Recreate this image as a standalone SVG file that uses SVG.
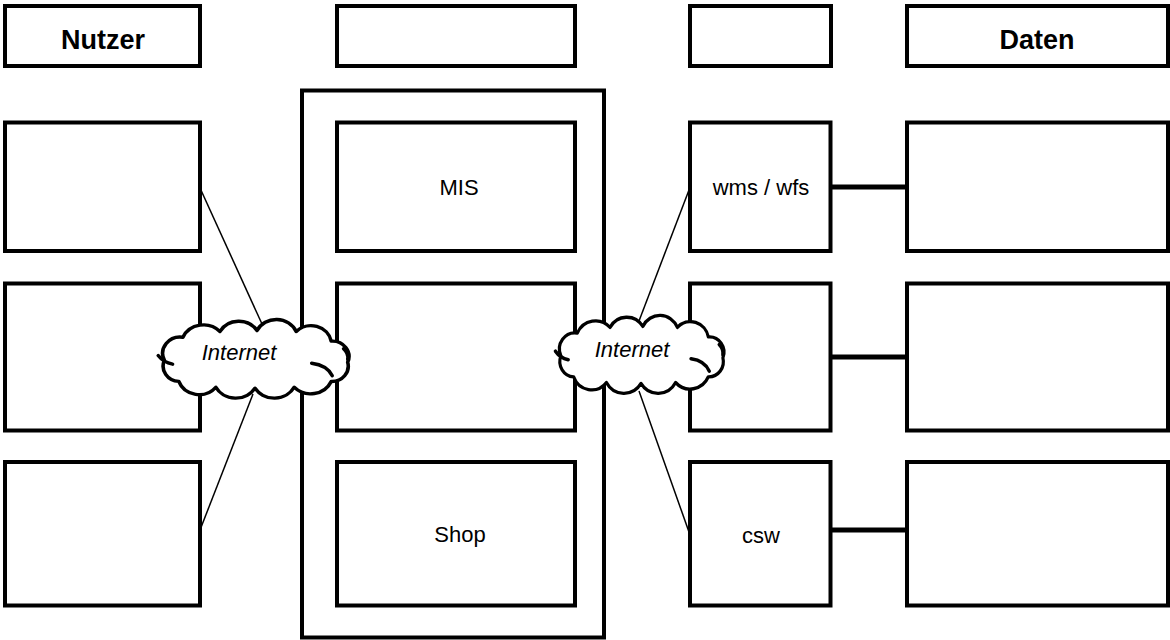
<svg xmlns="http://www.w3.org/2000/svg" width="1170" height="640" viewBox="0 0 1170 640">
<defs>
<style>
.box{fill:#fff;stroke:#000;stroke-width:4}
.cont{fill:none;stroke:#000;stroke-width:4}
.thin{stroke:#000;stroke-width:1.5;fill:none}
.thick{stroke:#000;stroke-width:5;fill:none}
.cloud{fill:#fff;stroke:#000;stroke-width:3.5;vector-effect:non-scaling-stroke;stroke-linejoin:round}
.curl{fill:none;stroke:#000;stroke-width:3.5;vector-effect:non-scaling-stroke;stroke-linecap:round}
.t{font-family:"Liberation Sans",Arial,sans-serif;font-size:22px;text-anchor:middle;fill:#000}
.h{font-family:"Liberation Sans",Arial,sans-serif;font-size:27px;font-weight:bold;text-anchor:middle;fill:#000}
.i{font-family:"Liberation Sans",Arial,sans-serif;font-size:22px;font-style:italic;text-anchor:middle;fill:#000}
</style>
<path id="cloudShape" d="M12 42 A17 17 0 0 1 30 18 A22 22 0 0 1 66 12 A21 21 0 0 1 102 11 A21 21 0 0 1 140 12 A20 20 0 0 1 174 22 A16 16 0 0 1 190 44 A16 16 0 0 1 174 64 A22 22 0 0 1 138 70 A22 22 0 0 1 100 71 A22 22 0 0 1 62 70 A21 21 0 0 1 26 64 A16 16 0 0 1 12 42 Z"/>
</defs>
<rect width="1170" height="640" fill="#fff"/>

<g id="hdr-nutzer"><rect class="box" x="5" y="6" width="195" height="60"/><text class="h" x="103" y="49">Nutzer</text></g>
<g id="hdr-middle"><rect class="box" x="337" y="6" width="238" height="60"/></g>
<g id="hdr-services"><rect class="box" x="690" y="6" width="141" height="60"/></g>
<g id="hdr-daten"><rect class="box" x="907" y="6" width="261" height="60"/><text class="h" x="1037" y="49">Daten</text></g>

<g id="container"><rect class="cont" x="302" y="90.5" width="302" height="547"/></g>

<g id="user1"><rect class="box" x="5" y="122.5" width="195" height="128.5"/></g>
<g id="user2"><rect class="box" x="5" y="283.5" width="195" height="147"/></g>
<g id="user3"><rect class="box" x="5" y="462" width="195" height="143.5"/></g>

<g id="mis"><rect class="box" x="337" y="122.5" width="238" height="128.5"/><text class="t" x="459" y="195">MIS</text></g>
<g id="middle2"><rect class="box" x="337" y="283.5" width="238" height="147"/></g>
<g id="shop"><rect class="box" x="337" y="462" width="238" height="143.5"/><text class="t" x="460" y="542">Shop</text></g>

<g id="wmswfs"><rect class="box" x="690" y="122.5" width="140.5" height="128.5"/><text class="t" x="761" y="195">wms / wfs</text></g>
<g id="service2"><rect class="box" x="690" y="283.5" width="140.5" height="147"/></g>
<g id="csw"><rect class="box" x="690" y="462" width="140.5" height="143.5"/><text class="t" x="761" y="543">csw</text></g>

<g id="data1"><rect class="box" x="907" y="122.5" width="261" height="128.5"/></g>
<g id="data2"><rect class="box" x="907" y="283.5" width="261" height="147"/></g>
<g id="data3"><rect class="box" x="907" y="462" width="261" height="143.5"/></g>

<g id="connectors">
<line class="thin" x1="200" y1="188" x2="262" y2="324"/>
<line class="thin" x1="253" y1="394" x2="200" y2="530"/>
<line class="thin" x1="689" y1="190" x2="639" y2="321"/>
<line class="thin" x1="639" y1="391" x2="689" y2="532"/>
<line class="thick" x1="830" y1="187" x2="907" y2="187"/>
<line class="thick" x1="830" y1="357" x2="907" y2="357"/>
<line class="thick" x1="830" y1="530" x2="907" y2="530"/>
</g>

<g id="cloud-left">
<g transform="translate(152,320) scale(1.03,0.96)">
<use href="#cloudShape" class="cloud"/>
<path class="curl" d="M6 37 Q11 44 20 46"/>
<path class="curl" d="M155 45 Q170 47 175 58"/>
<path class="curl" d="M186 30 Q191 35 190 41"/>
</g>
<text class="i" x="239" y="360">Internet</text>
</g>
<g id="cloud-right">
<g transform="translate(550,316) scale(0.91,0.95)">
<use href="#cloudShape" class="cloud"/>
<path class="curl" d="M6 37 Q11 44 20 46"/>
<path class="curl" d="M155 45 Q170 47 175 58"/>
<path class="curl" d="M186 30 Q191 35 190 41"/>
</g>
<text class="i" x="632" y="357">Internet</text>
</g>
</svg>
